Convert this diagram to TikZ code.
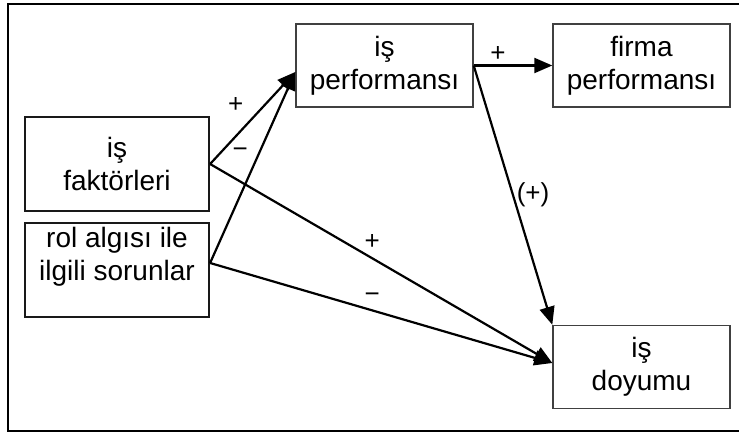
\documentclass[tikz,border=0pt]{standalone}
\usepackage{fontspec}
\setmainfont{Liberation Sans}
\usetikzlibrary{arrows.meta}

\begin{document}
\begin{tikzpicture}[x=1pt, y=-1pt,
	box/.style={draw=black!75, line width=1.4pt, rectangle, inner sep=0pt, align=center,
		minimum width=177pt, minimum height=83pt, font=\fontsize{28}{33}\selectfont},
	thickbox/.style={box, draw=black!90, line width=2.2pt, minimum width=184pt, minimum height=94pt},
	arr/.style={-{Triangle[length=18pt,width=15pt]}, line width=2.2pt},
	sign/.style={inner sep=0pt, font=\fontsize{26}{26}\selectfont}]
	\useasboundingbox (0,0) rectangle (739,436);
	\draw[line width=2.2pt] (739,4) -- (8,4) -- (8,431) -- (739,431);
	\node[box] (perf) at (384.5,65.5) {iş\\performansı};
	\node[box] (firma) at (641.5,65.5) {firma\\performansı};
		\node[thickbox] (faktor) at (117,164) {iş\\faktörleri};
		\node[thickbox] (rol) at (117,270) {rol algısı ile\\ilgili sorunlar\\ \mbox{}};
			\node[box] (doyum) at (641.5,367) {iş\\doyumu};
	\draw[arr] (faktor.east) to node [sign, pos=0.3, yshift=31pt] {+} ([yshift=-6.5pt]perf.west);
	\draw[arr] ([yshift=7pt]rol.east) to node [sign, pos=0.576, xshift=-19pt] {−} ([yshift=-6.5pt]perf.west);
	\draw[arr] (faktor.east) to node [sign, pos=0.474, yshift=16pt] {+} ([yshift=4pt]doyum.west);
	\draw[arr] ([yshift=7pt]rol.east) to node [sign, pos=0.474, yshift=13pt] {−} ([yshift=4pt]doyum.west);
	\draw[arr] (perf.east) to node [sign, pos=0.31, yshift=12pt] {+} (firma.west);
	\draw[arr] (perf.east) to node [sign, pos=0.5, xshift=20pt] {(+)} (doyum.north west);
\end{tikzpicture}
\end{document}
